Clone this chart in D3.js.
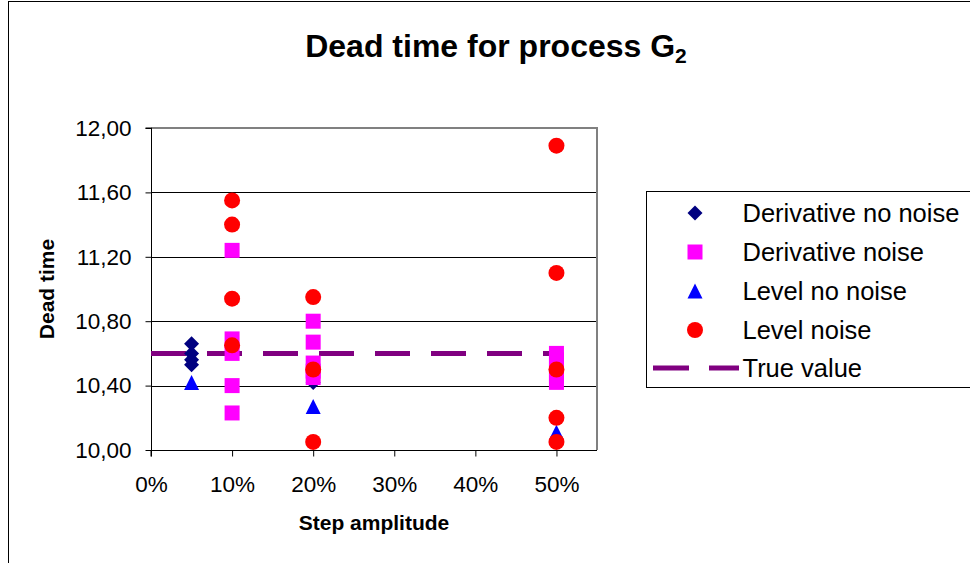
<!DOCTYPE html>
<html><head><meta charset="utf-8">
<script src="https://cdn.jsdelivr.net/npm/d3@7"></script>
<style>body{margin:0;background:#fff}svg{display:block}text{font-family:"Liberation Sans",Arial,sans-serif}</style>
</head><body>
<script>
// ---- data ----
const yTicks = [10.0, 10.4, 10.8, 11.2, 11.6, 12.0];
const xTicks = [0, 0.1, 0.2, 0.3, 0.4, 0.5];
const derivNoNoiseX = [0.05, 0.05, 0.05, 0.05, 0.2];
const derivNoNoiseY = [10.66, 10.60, 10.56, 10.53, 10.42];
const derivNoiseX = [0.1,0.1,0.1,0.1,0.1, 0.2,0.2,0.2,0.2,0.2, 0.5,0.5,0.5,0.5,0.5];
const derivNoiseY = [11.24,10.69,10.60,10.40,10.23, 10.80,10.67,10.54,10.49,10.45, 10.60,10.56,10.51,10.46,10.42];
const levelNoNoiseX = [0.05, 0.2, 0.5];
const levelNoNoiseY = [10.42, 10.27, 10.11];
const levelNoiseX = [0.1,0.1,0.1,0.1, 0.2,0.2,0.2, 0.5,0.5,0.5,0.5,0.5];
const levelNoiseY = [11.55,11.40,10.94,10.65, 10.95,10.50,10.05, 11.89,11.10,10.50,10.20,10.05];
const trueX = [0, 0.5];
const trueY = [10.60, 10.60];
const legendLabels = ["Derivative no noise","Derivative noise","Level no noise","Level noise","True value"];

const W = 970, H = 563;
const svg = d3.select("body").append("svg").attr("width", W).attr("height", H);
const x = d3.scaleLinear().domain([0, 0.55]).range([151, 597]);
const y = d3.scaleLinear().domain([10, 12]).range([450, 128]);

// chart frame
svg.append("rect").attr("x", 8.5).attr("y", 1.5).attr("width", 1000).attr("height", 700)
  .attr("fill", "#fff").attr("stroke", "#000").attr("stroke-width", 1);

// title
const t = svg.append("text").attr("x", 496).attr("y", 57).attr("text-anchor", "middle")
  .attr("font-size", 32).attr("font-weight", "bold").attr("fill", "#000");
t.append("tspan").text("Dead time for process G");
t.append("tspan").attr("font-size", 21).attr("dy", 6).text("2");

// gridlines
svg.append("g").selectAll("line").data(yTicks.filter(v => v > 10 && v < 12)).join("line")
  .attr("x1", x(0)).attr("x2", x(0.55)).attr("y1", d => Math.round(y(d)) + 0.5).attr("y2", d => Math.round(y(d)) + 0.5)
  .attr("stroke", "#000").attr("stroke-width", 1);

// plot border (top/right gray)
svg.append("path").attr("d", `M${x(0)},${y(12)}H${x(0.55)}V${y(10)}`).attr("fill", "none")
  .attr("stroke", "#808080").attr("stroke-width", 2);

// axes
const yAxis = d3.axisLeft(y).tickValues(yTicks).tickSize(6).tickPadding(14)
  .tickFormat(d => d3.format(".2f")(d).replace(".", ","));
const gy = svg.append("g").attr("transform", `translate(${x(0) + 0.5},0)`).call(yAxis);
const xAxis = d3.axisBottom(x).tickValues(xTicks).tickSize(6).tickPadding(20)
  .tickFormat(d => Math.round(d * 100) + "%");
const gx = svg.append("g").attr("transform", `translate(0,${y(10) + 0.5})`).call(xAxis);
[gy, gx].forEach(g => {
  g.select(".domain").attr("stroke", "#000");
  g.selectAll(".tick line").attr("stroke", "#000");
  g.selectAll("text").attr("font-size", 22.5).attr("fill", "#000")
    .style("font-family", '"Liberation Sans",Arial,sans-serif');
});
gx.select(".domain").attr("d", `M${x(0)},6V0H${x(0.55)}`);
gy.select(".domain").attr("d", `M-6,${y(12)}H0V${y(10)}`);

// axis titles
svg.append("text").attr("transform", "translate(54,289) rotate(-90)").attr("text-anchor", "middle")
  .attr("font-size", 21).attr("font-weight", "bold").text("Dead time");
svg.append("text").attr("x", 374).attr("y", 530).attr("text-anchor", "middle")
  .attr("font-size", 21).attr("font-weight", "bold").text("Step amplitude");

// marker shapes
const S = 7.5;
const shapes = {
  diamond: `M0,${-S}L${S},0L0,${S}L${-S},0Z`,
  square: `M${-S},${-S}H${S}V${S}H${-S}Z`,
  triangle: `M0,${-S}L${S},${S}H${-S}Z`
};
const colors = ["#000080", "#FF00FF", "#0000FF", "#FF0000", "#800080"];

// true value line
const line = d3.line().x((d, i) => x(trueX[i])).y(d => y(d));
svg.append("path").datum(trueY).attr("d", line).attr("fill", "none")
  .attr("stroke", colors[4]).attr("stroke-width", 5).attr("stroke-dasharray", "35,21");

function drawPaths(xs, ys, shape, color) {
  svg.append("g").selectAll("path").data(ys).join("path")
    .attr("d", shapes[shape]).attr("fill", color)
    .attr("transform", (d, i) => `translate(${x(xs[i])},${y(d)})`);
}
drawPaths(derivNoNoiseX, derivNoNoiseY, "diamond", colors[0]);
drawPaths(derivNoiseX, derivNoiseY, "square", colors[1]);
drawPaths(levelNoNoiseX, levelNoNoiseY, "triangle", colors[2]);
svg.append("g").selectAll("circle").data(levelNoiseY).join("circle")
  .attr("cx", (d, i) => x(levelNoiseX[i])).attr("cy", d => y(d)).attr("r", 8).attr("fill", colors[3]);

// legend
const lg = svg.append("g");
lg.append("rect").attr("x", 646.5).attr("y", 191.5).attr("width", 340).attr("height", 196)
  .attr("fill", "#fff").attr("stroke", "#000");
const ly = [213, 252, 291, 330, 368];
legendLabels.forEach((lab, i) => {
  const g = lg.append("g").attr("transform", `translate(695,${ly[i]})`);
  if (i === 4) {
    g.append("line").attr("x1", -42).attr("x2", 44).attr("y1", 0).attr("y2", 0)
      .attr("stroke", colors[4]).attr("stroke-width", 5).attr("stroke-dasharray", "36,20");
  } else if (i === 3) {
    g.append("circle").attr("r", 8).attr("fill", colors[3]);
  } else {
    g.append("path").attr("d", shapes[["diamond", "square", "triangle"][i]]).attr("fill", colors[i]);
  }
  lg.append("text").attr("x", 742.5).attr("y", ly[i] + 9).attr("font-size", 25.5).attr("fill", "#000").text(lab);
});
</script>
</body></html>
